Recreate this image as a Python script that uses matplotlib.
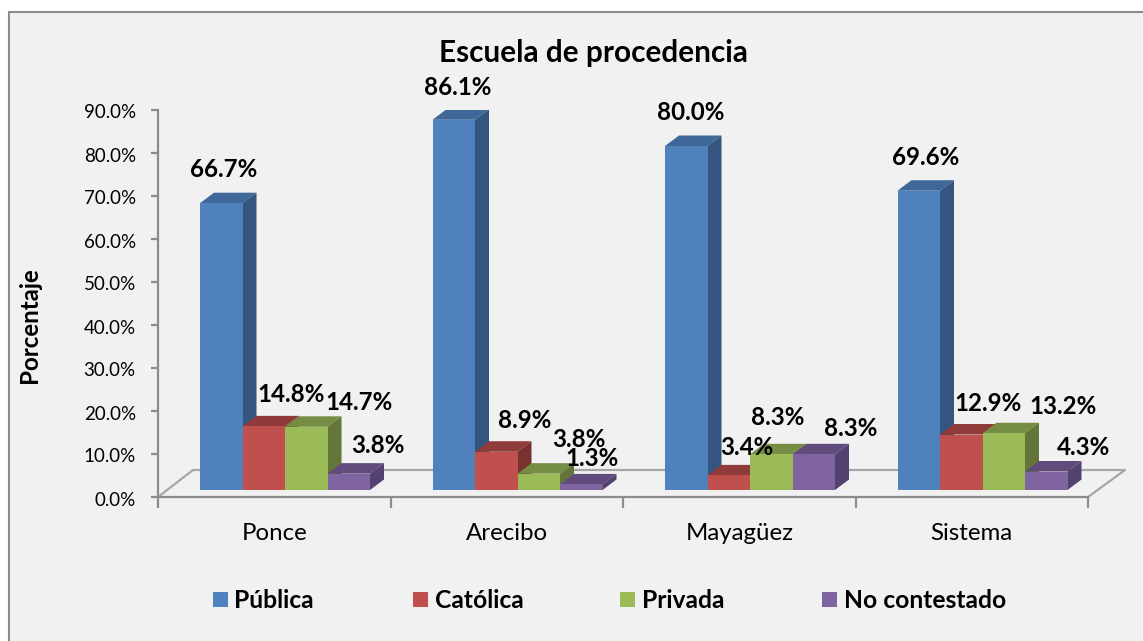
#!/usr/bin/env python3
## Escuela de procedencia - fake 3D column chart, Excel style

import numpy as np
import matplotlib
matplotlib.use("Agg")
import matplotlib.pyplot as plt
from matplotlib.patches import Rectangle
from matplotlib.transforms import ScaledTranslation

plt.rcParams['font.family'] = ['Lato', 'DejaVu Sans']

categories = ["Ponce", "Arecibo", "Mayagüez", "Sistema"]
series_names = ["Pública", "Católica", "Privada", "No contestado"]
publica = [66.7, 86.1, 80.0, 69.6]
catolica = [14.8, 8.9, 3.4, 12.9]
privada = [14.7, 3.8, 8.3, 13.2]
no_contestado = [3.8, 1.3, 8.3, 4.3]
all_series = [publica, catolica, privada, no_contestado]

## colours for front, top and side of each series
front_cols = ["#4F81BD", "#C0504D", "#9BBB59", "#8064A2"]
top_cols = ["#3F6797", "#8F3B39", "#768E44", "#614B7C"]
side_cols = ["#335580", "#7A3230", "#637538", "#53416F"]

W, H = 1143, 641
BG = "#F1F1F1"
LINE = "#8C8C8C"

## label offsets from the top centre of each bar, in pixels (right, up)
label_off = [
    [(2, 34), (27, 32), (53, 24), (29.5, 28)],
    [(3.5, 32), (28, 31), (40, 34), (11, 26)],
    [(4.5, 33), (18, 28), (6, 37), (36.5, 26)],
    [(6.5, 33), (27, 31), (59.5, 27), (37, 24.5)],
]

fig = plt.figure(figsize=(W / 100, H / 100), dpi=100, facecolor="white")

## panel behind the chart, running off the right and bottom edges
fig.patches.append(Rectangle((8.5 / W, -0.01), 1.01, (H - 11.5) / H + 0.01, transform=fig.transFigure,
                             facecolor=BG, edgecolor=LINE, linewidth=1.5, zorder=-5))

left, right, top, bottom = 158, 1088, 110, 497
ax = fig.add_axes([left / W, 1 - bottom / H, (right - left) / W, (bottom - top) / H])
ax.patch.set_alpha(0)
ax.set_xlim(0, 4)
ax.set_ylim(0, 90)

px_x = 4 / (right - left)
px_y = 90 / (bottom - top)
base = 7 * px_y
dx = 14 * px_x
dy = 10.5 * px_y
bar_w = 42.5 * px_x
start = 42 * px_x

## floor of the 3D box
floor_x = [0, 35 * px_x, 4 + 37 * px_x, 4]
floor_y = [0, 27 * px_y, 27 * px_y, 0]
ax.plot(floor_x, floor_y, color="#A6A6A6", lw=1.6, clip_on=False, zorder=1)

for g in range(len(categories)):
    for s, vals in enumerate(all_series):
        v = vals[g]
        x0 = g + start + s * bar_w
        x1 = x0 + bar_w
        t = base + v
        z = 3 + g * 10 + s
        ax.bar(x0, v, width=bar_w, bottom=base, align="edge", color=front_cols[s], zorder=z + 0.2)
        ax.fill([x0, x0 + dx, x1 + dx, x1], [t, t + dy, t + dy, t], color=top_cols[s], lw=0, zorder=z)
        ax.fill([x1, x1 + dx, x1 + dx, x1], [base, base + dy, t + dy, t], color=side_cols[s], lw=0, zorder=z)
        ox, oy = label_off[g][s]
        ax.annotate("{:.1f}%".format(v), xy=(x0 + bar_w / 2, t), xytext=(ox, oy),
                    textcoords="offset pixels", ha="center", va="center",
                    fontsize=17.4, fontweight="bold", color="black", zorder=100)

for side in ["top", "right"]:
    ax.spines[side].set_visible(False)
for side in ["left", "bottom"]:
    ax.spines[side].set_color(LINE)
    ax.spines[side].set_linewidth(1.6)

yt = np.arange(0, 100, 10)
ax.set_yticks(yt)
ax.set_yticklabels(["{:.1f}%".format(y) for y in yt], fontsize=13.5)
ax.set_xticks(np.arange(5))
ax.set_xticklabels([])
ax.set_xticks(np.arange(4) + 0.5, minor=True)
ax.set_xticklabels(categories, minor=True, fontsize=17.3)
ax.tick_params(axis="y", length=5, width=1.6, color=LINE, pad=11)
ax.tick_params(axis="x", which="major", length=8, width=1.6, color=LINE)
ax.tick_params(axis="x", which="minor", length=0, pad=19)

## tick labels sit a little under their ticks in the original
shift = ScaledTranslation(0, -1.5 / 100, fig.dpi_scale_trans)
for lab in ax.get_yticklabels():
    lab.set_transform(lab.get_transform() + shift)

ax.set_ylabel("Porcentaje", fontsize=17.4, fontweight="bold")
ax.yaxis.set_label_coords((41 - left) / (right - left), (bottom - 325) / (bottom - top))

fig.text(593 / W, 1 - 53 / H, "Escuela de procedencia", ha="center", va="center", fontsize=21.4, fontweight="bold")

## legend entries are not quite evenly spaced, so placed by hand
legend_x = [213, 413, 620, 822]
for s, name in enumerate(series_names):
    lx = legend_x[s]
    fig.patches.append(Rectangle((lx / W, 1 - 607 / H), 15 / W, 15 / H, transform=fig.transFigure,
                                 facecolor=front_cols[s], edgecolor="none"))
    fig.text((lx + 21.5) / W, 1 - 600 / H, name, ha="left", va="center", fontsize=17.7, fontweight="bold")

fig.savefig("out.png", dpi=100, facecolor="white")
